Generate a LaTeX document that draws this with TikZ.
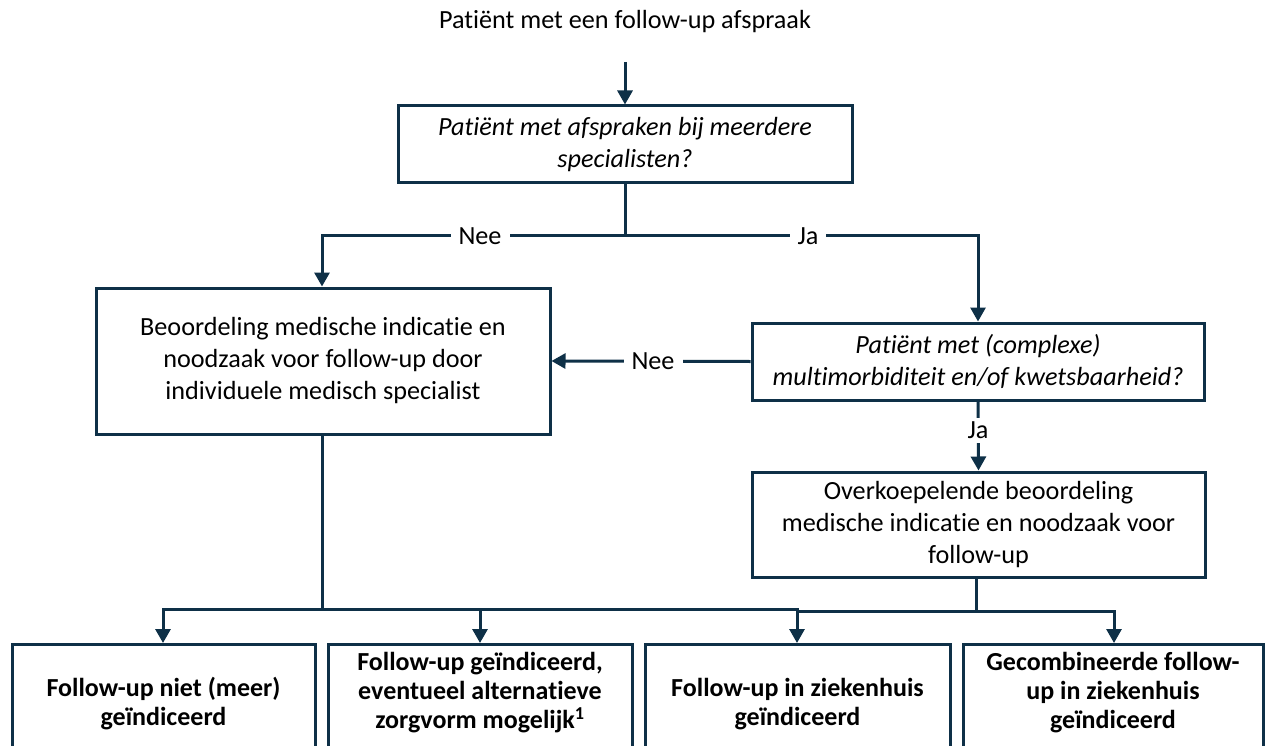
\documentclass[tikz,border=0pt]{standalone}
\usepackage{fontspec}
\setmainfont[Ligatures=NoCommon]{Carlito}
\usetikzlibrary{arrows.meta}
\definecolor{navy}{HTML}{0E3047}
\begin{document}
\begin{tikzpicture}[x=1pt,y=-1pt,
  conn/.style={draw=navy,line width=3pt},
  arr/.style={conn,-{Triangle[length=14pt,width=15pt]}},
  box/.style={draw=navy,line width=3pt,fill=white,align=center,inner sep=0pt,
    font=\fontsize{26.2}{32}\selectfont},
  frame/.style={draw=navy,line width=3pt,fill=white,inner sep=0pt,anchor=north,minimum height=160pt},
  res/.style={align=center,inner sep=0pt,font=\fontsize{26}{29}\selectfont\bfseries},
  lbl/.style={fill=white,inner xsep=8pt,inner ysep=2pt,font=\fontsize{26.2}{32}\selectfont}
]
\useasboundingbox (0,0) rectangle (1265,746);
\clip (0,0) rectangle (1265,746);
\fill[white] (0,0) rectangle (1265,746);

% title and decision boxes
\node[font=\fontsize{26.2}{32}\selectfont] (title) at (625,22) {Patiënt met een follow-up afspraak};
\coordinate (s0) at (625,62);
\node[box,minimum width=454pt,minimum height=77pt] (b1) at (625,144.5)
  {\textit{Patiënt met afspraken bij meerdere}\\\textit{specialisten?}};
\node[box,minimum width=454pt,minimum height=146pt] (b2) at (323,361)
  {Beoordeling medische indicatie en\\noodzaak voor follow-up door\\individuele medisch specialist};
\node[box,minimum width=452pt,minimum height=77pt] (b3) at (978,361.5)
  {\textit{Patiënt met (complexe)}\\\textit{multimorbiditeit en/of kwetsbaarheid?}};
\node[box,minimum width=453pt,minimum height=105pt] (b4) at (978.5,524.5)
  {Overkoepelende beoordeling\\medische indicatie en noodzaak voor\\follow-up};

% result boxes (bottom edge runs off the picture)
\node[frame,minimum width=303pt] (fa) at (163.5,643) {};
\node[frame,minimum width=304pt] (fb) at (480,643) {};
\node[frame,minimum width=305pt] (fc) at (797.5,643) {};
\node[frame,minimum width=300pt] (fd) at (1113,643) {};
\node[res] (ra) at (163.5,704) {Follow-up niet (meer)\\geïndiceerd};
\node[res] (rb) at (480,693) {Follow-up geïndiceerd,\\eventueel alternatieve\\zorgvorm mogelijk\textsuperscript{1}};
\node[res] (rc) at (797.5,704) {Follow-up in ziekenhuis\\geïndiceerd};
\node[res] (rd) at (1113,693) {Gecombineerde follow-\\up in ziekenhuis\\geïndiceerd};

% connectors
\draw[arr] (s0) -- (b1.north);
\coordinate (j1) at (625,235);
\draw[conn] (b1.south) -- (j1);
\draw[arr] (j1) -- (322,235) -- (b2.north -| 322,0);
\draw[arr] (j1) -- (978,235) -- (b3.north);
\node[lbl] (nee1) at (480,236) {Nee};
\node[lbl] (ja1) at (808,236) {Ja};

\draw[arr] (b3.west) -- (b2.east);
\node[lbl] (nee2) at (653,361.5) {Nee};

\draw[arr] (b3.south) -- (b4.north);
\node[lbl,inner xsep=2pt,inner ysep=4pt] (ja2) at (978,430) {Ja};

\coordinate (j2) at (322,609);
\draw[conn] (b2.south -| j2) -- (j2);
\draw[arr] (j2) -- (163,609) -- (fa.north -| 163,0);
\draw[arr] (j2) -- (797,609) -- (fc.north -| 797,0);
\draw[arr] (480,609) -- (fb.north);

\coordinate (j3) at (976,611.5);
\draw[conn] (b4.south -| j3) -- (j3);
\draw[conn] (j3) -- (797,611.5);
\draw[arr] (j3) -- (1114,611.5) -- (fd.north -| 1114,0);
\end{tikzpicture}
\end{document}
